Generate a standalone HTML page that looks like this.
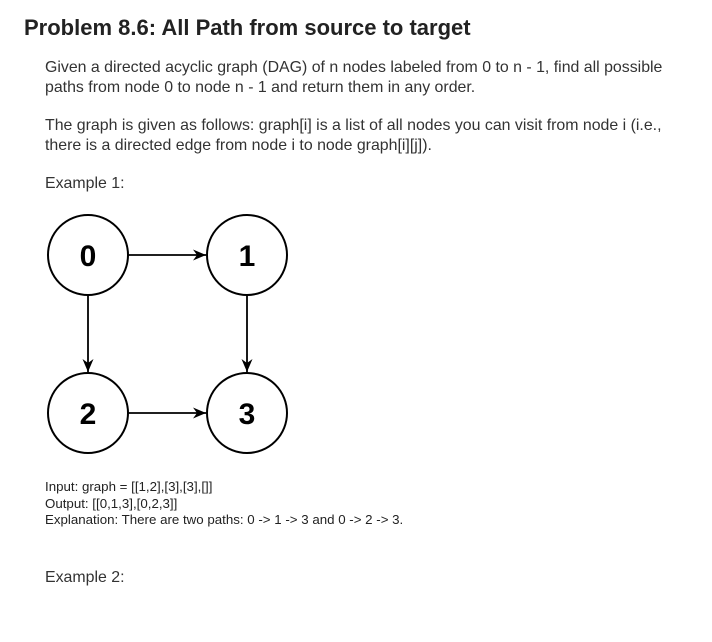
<!DOCTYPE html>
<html><head><style>
body{margin:0;width:712px;height:642px;background:#fff;font-family:"Liberation Sans",Arial,sans-serif;color:#222;position:relative;overflow:hidden}
.t{position:absolute;white-space:nowrap}
h1{position:absolute;left:24px;top:15px;margin:0;font-size:22px;font-weight:bold;color:#222}
.p{font-size:15.9px;line-height:20px;color:#333}
.s{font-size:13.3px;line-height:16.5px;color:#222}
</style></head><body>
<h1>Problem 8.6: All Path from source to target</h1>
<div class="t p" style="left:45px;top:58px">Given a directed acyclic graph (DAG) of n nodes labeled from 0 to n - 1, find all possible<br>paths from node 0 to node n - 1 and return them in any order.</div>
<div class="t p" style="left:45px;top:116px">The graph is given as follows: graph[i] is a list of all nodes you can visit from node i (i.e.,<br>there is a directed edge from node i to node graph[i][j]).</div>
<div class="t p" style="left:45px;top:174px">Example 1:</div>
<svg style="position:absolute;left:0;top:0" width="712" height="642">
<defs><marker id="a" markerWidth="14" markerHeight="14" refX="13" refY="7" orient="auto" markerUnits="userSpaceOnUse"><path d="M0,1.5 L13,7 L0,12.5 L4,7Z" fill="#000"/></marker></defs>
<g fill="none" stroke="#000" stroke-width="2">
<circle cx="88" cy="255" r="40"/><circle cx="247" cy="255" r="40"/>
<circle cx="88" cy="413" r="40"/><circle cx="247" cy="413" r="40"/>
</g>
<g stroke="#000" stroke-width="1.8" marker-end="url(#a)">
<line x1="128" y1="255" x2="206" y2="255"/>
<line x1="128" y1="413" x2="206" y2="413"/>
<line x1="88" y1="295" x2="88" y2="372"/>
<line x1="247" y1="295" x2="247" y2="372"/>
</g>
<g font-family="Liberation Sans,Arial,sans-serif" font-weight="bold" font-size="30" text-anchor="middle">
<text x="88" y="266">0</text><text x="247" y="266">1</text>
<text x="88" y="424">2</text><text x="247" y="424">3</text>
</g>
</svg>
<div class="t s" style="left:45px;top:479px">Input: graph = [[1,2],[3],[3],[]]<br>Output: [[0,1,3],[0,2,3]]<br>Explanation: There are two paths: 0 -&gt; 1 -&gt; 3 and 0 -&gt; 2 -&gt; 3.</div>
<div class="t p" style="left:45px;top:568px">Example 2:</div>
</body></html>
